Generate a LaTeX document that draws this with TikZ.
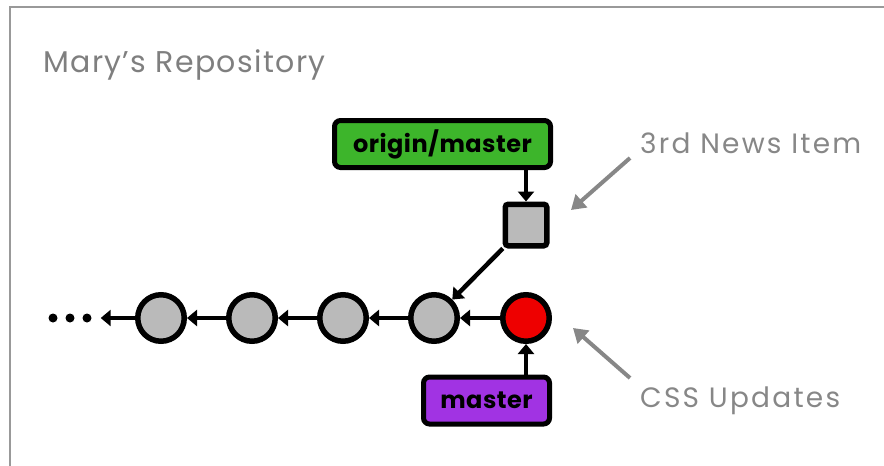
\documentclass[tikz,border=0pt]{standalone}
\usepackage{fontspec}
\setmainfont{Poppins}
\usepackage{xcolor}
\usepackage{tikz}
\usetikzlibrary{positioning,arrows.meta}
\definecolor{frameGray}{HTML}{999999}
\definecolor{titleGray}{HTML}{7F7F7F}
\definecolor{noteGray}{HTML}{878787}
\definecolor{commitGray}{HTML}{BABABA}
\definecolor{headRed}{HTML}{EE0000}
\definecolor{originGreen}{HTML}{3DB52B}
\definecolor{masterPurple}{HTML}{A133E3}

\begin{document}
\begin{tikzpicture}[x=1pt, y=-1pt,
  commitDot/.style ={circle, draw=black, fill=commitGray, line width=5.5pt, minimum size=46.5pt, inner sep=0pt},
  headDot/.style   ={commitDot, fill=headRed},
  newsSq/.style    ={rectangle, rounded corners=3pt, draw=black, fill=commitGray, line width=5.5pt, minimum size=41.5pt, inner sep=0pt},
  branchBox/.style ={rectangle, rounded corners=6pt, draw=black, line width=5pt, minimum height=47pt, inner sep=0pt, font=\fontsize{24}{27}\selectfont\bfseries\addfontfeature{LetterSpace=2}},
  tinyDot/.style   ={circle, fill=black, minimum size=9pt, inner sep=0pt},
  link/.style      ={line width=4.5pt, -{Triangle[length=10pt,width=16pt]}},
  note/.style      ={line width=4pt, draw=noteGray, -{Triangle[length=14pt,width=17pt]}},
  noteText/.style  ={text=noteGray, anchor=base west, inner sep=0pt, font=\fontsize{28}{32}\selectfont\addfontfeature{LetterSpace=8}},
]
% canvas in pixels of the reference, y grows downwards
\useasboundingbox (0,0) rectangle (884,466);
\draw[frameGray, line width=2pt] (10,466) -- (10,7) -- (884,7);
\node[anchor=base west, inner sep=0pt, text=titleGray, font=\fontsize{30}{34}\selectfont\addfontfeature{LetterSpace=4.5}] (title) at (43,72) {Mary’s Repository};
% history: older commits, then the local head (red)
\foreach \i/\xx in {1/161,2/252,3/343,4/434} {
  \node[commitDot] (c\i) at (\xx,318) {};
}
\node[headDot] (c5) at (526,318) {};
\foreach \i/\xx in {1/53,2/70,3/87} {
  \node[tinyDot] (d\i) at (\xx,318) {};
}
\foreach \a/\b in {c5/c4,c4/c3,c3/c2,c2/c1} {
  \draw[link] (\a) -- (\b);
}
\draw[link, shorten >=9pt] (c1) -- (d3);
% fetched commit and the branch labels
\node[newsSq] (news) at (526,225) {};
\draw[link] (news) -- (c4);
\node[branchBox, fill=originGreen, minimum width=216pt] (origin) at (442.5,144) {origin/master};
\node[branchBox, fill=masterPurple, minimum width=126pt] (master) at (486.5,400.5) {master};
\draw[link] (origin.south -| news.north) -- (news.north);
\draw[link] (master.north -| c5.south) -- (c5.south);
% annotations
\node[noteText] (newsNote) at (640,153) {3rd News Item};
\node[noteText] (cssNote) at (640,407) {CSS Updates};
\coordinate (newsTail) at (630,158);
\coordinate (newsTip) at (571,210);
\coordinate (cssTail) at (630,378);
\coordinate (cssTip) at (573,328);
\draw[note] (newsTail) -- (newsTip);
\draw[note] (cssTail) -- (cssTip);
\end{tikzpicture}
\end{document}
